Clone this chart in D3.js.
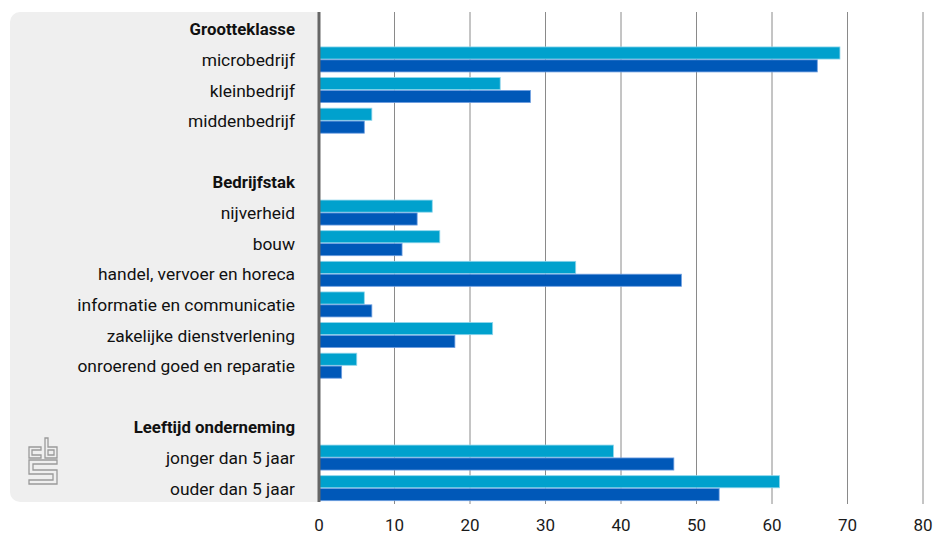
<!DOCTYPE html>
<html>
<head>
<meta charset="utf-8">
<script src="https://cdn.jsdelivr.net/npm/d3@7"></script>
<style>
  html, body { margin: 0; padding: 0; background: #ffffff; }
  svg { display: block; font-family: Roboto, "Noto Sans", sans-serif; }
</style>
</head>
<body>
<svg id="chart" width="933" height="537"></svg>
<script>
// Row labels, top to bottom; headers are group titles, "" is a spacer row
const categories = [
  "Grootteklasse", "microbedrijf", "kleinbedrijf", "middenbedrijf", "",
  "Bedrijfstak", "nijverheid", "bouw", "handel, vervoer en horeca",
  "informatie en communicatie", "zakelijke dienstverlening",
  "onroerend goed en reparatie", "",
  "Leeftijd onderneming", "jonger dan 5 jaar", "ouder dan 5 jaar"
];
const headers = ["Grootteklasse", "Bedrijfstak", "Leeftijd onderneming"];

// Two series per row (null for header / spacer rows)
const seriesLight = [null, 69, 24, 7, null, null, 15, 16, 34, 6, 23, 5, null, null, 39, 61];
const seriesDark  = [null, 66, 28, 6, null, null, 13, 11, 48, 7, 18, 3, null, null, 47, 53];

const xTicks = [0, 10, 20, 30, 40, 50, 60, 70, 80];

const svg = d3.select("#chart");
const x0 = 319, x1 = 923;
const rowsTop = 14, rowsBottom = 504;

const x = d3.scaleLinear().domain([0, 80]).range([x0, x1]);
const rowKeys = categories.map((c, i) => i);
const y = d3.scaleBand().domain(rowKeys).range([rowsTop, rowsBottom]).padding(0);
const inner = d3.scaleBand().domain(["light", "dark"]).range([-13, 12]).paddingInner(0.06);

// Grey label panel with rounded left corners
const px = 10, py = 12, pw = x0 - px, ph = 490, r = 10;
svg.append("path")
  .attr("d", `M${px + r},${py} H${px + pw} V${py + ph} H${px + r} A${r},${r} 0 0 1 ${px},${py + ph - r} V${py + r} A${r},${r} 0 0 1 ${px + r},${py} Z`)
  .attr("fill", "#efefef");

// Vertical gridlines
svg.append("g")
  .selectAll("line")
  .data(xTicks.filter(d => d > 0))
  .join("line")
  .attr("x1", d => x(d)).attr("x2", d => x(d))
  .attr("y1", py).attr("y2", py + ph + 2)
  .attr("stroke", "#8a8a8a")
  .attr("stroke-width", 1);

// Tick labels under the plot
svg.append("g")
  .selectAll("text")
  .data(xTicks)
  .join("text")
  .attr("x", d => x(d))
  .attr("y", 531)
  .attr("text-anchor", "middle")
  .attr("font-size", 17)
  .attr("fill", "#1a1a1a")
  .text(d => d);

// Bars
const rows = categories.map((c, i) => ({ i, c, light: seriesLight[i], dark: seriesDark[i] }));
const barG = svg.append("g");
const colors = { light: "#00a1cd", dark: "#0058b8" };
const strokes = { light: "#8fd6ec", dark: "#6f9fe0" };
rows.filter(d => d.light !== null).forEach(d => {
  ["light", "dark"].forEach(k => {
    const v = k === "light" ? d.light : d.dark;
    const cy = y(d.i) + y.bandwidth() / 2;
    barG.append("rect")
      .attr("x", x(0))
      .attr("y", cy + inner(k))
      .attr("width", x(v) - x(0))
      .attr("height", inner.bandwidth())
      .attr("fill", colors[k])
      .attr("stroke", strokes[k])
      .attr("stroke-width", 0.8);
  });
});

// Zero axis line
svg.append("line")
  .attr("x1", x(0)).attr("x2", x(0))
  .attr("y1", py).attr("y2", py + ph)
  .attr("stroke", "#666666")
  .attr("stroke-width", 3);

// Row labels
svg.append("g")
  .selectAll("text")
  .data(rows.filter(d => d.c !== ""))
  .join("text")
  .attr("x", 295)
  .attr("y", d => y(d.i) + y.bandwidth() / 2 + 6)
  .attr("text-anchor", "end")
  .attr("font-size", d => headers.includes(d.c) ? 16.8 : 17.4)
  .attr("font-weight", d => headers.includes(d.c) ? 700 : 400)
  .attr("fill", "#111111")
  .text(d => d.c);

// cbs logo
const logo = svg.append("g")
  .attr("fill", "none")
  .attr("stroke", "#9a9a9a")
  .attr("stroke-width", 1.3)
  .attr("stroke-linejoin", "miter");
logo.append("path").attr("d", "M41,447 H29 V458 H41 V455 H32 V450 H41 Z");
logo.append("path").attr("d", "M45,438 H48 V447 H57 V458 H45 Z M48,450 H54 V455 H48 Z");
logo.append("path").attr("d", "M29,460 H57 V464 H33 V470 H57 V484 H29 V480 H53 V474 H29 Z");
</script>
</body>
</html>
